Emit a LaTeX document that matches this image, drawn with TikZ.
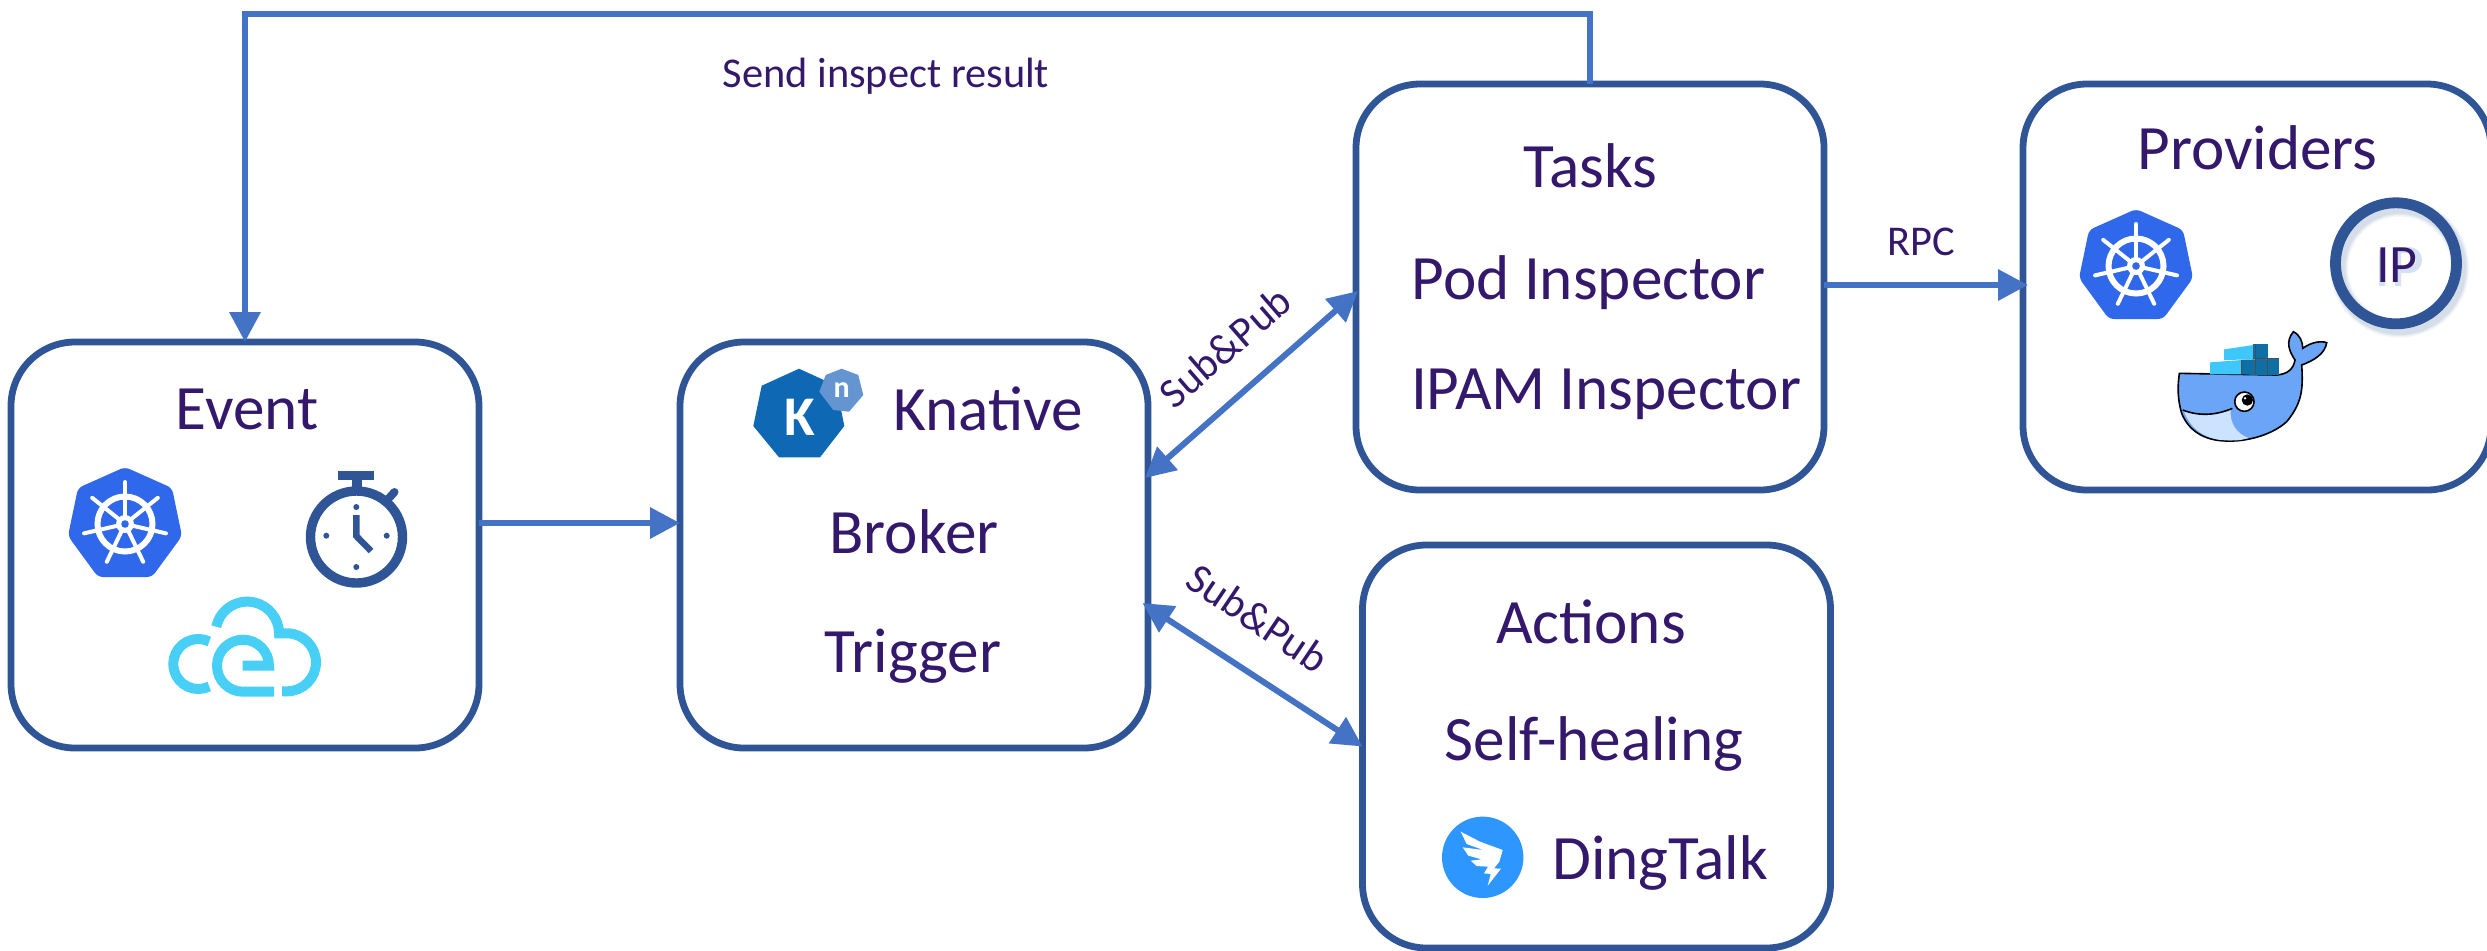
\documentclass[tikz,border=0pt]{standalone}
\usepackage{fontspec}
\setmainfont{Carlito}
\usetikzlibrary{arrows.meta,calc}
\definecolor{txt}{HTML}{34186B}
\definecolor{boxc}{HTML}{2F5597}
\definecolor{arr}{HTML}{4472C4}
\definecolor{kube}{HTML}{2F68EA}
\definecolor{cevent}{HTML}{47CFF5}
\definecolor{knat}{HTML}{0E68B4}
\definecolor{knatn}{HTML}{6495D1}
\definecolor{ding}{HTML}{2D96FF}
\definecolor{whale}{HTML}{6AA5F8}
\definecolor{belly}{HTML}{CCE3FF}
\definecolor{crate}{HTML}{3FC6FB}
\definecolor{crated}{HTML}{0F6EA3}
\tikzset{
  x=0.5pt,y=-0.5pt,
  panel/.style={draw=boxc,line width=3.4pt,rounded corners=32pt,minimum width=234pt,minimum height=203pt,outer sep=0pt,inner sep=0pt,fill=white},
  big/.style={text=txt,font=\fontsize{31.6}{32}\selectfont,anchor=base,inner sep=0pt},
  small/.style={text=txt,font=\fontsize{21.2}{22}\selectfont,inner sep=0pt},
  conn/.style={draw=arr,line width=3.2pt,-{Triangle[length=15pt,width=15pt]}},
  both/.style={draw=arr,line width=3pt,{Triangle[length=15pt,width=15pt]}-{Triangle[length=15pt,width=15pt]}},
  lgpt/.style={line width=0.8pt}
}
\newcommand{\kubelogo}[2]{%
\begin{scope}[shift={(#1,#2)}]
  \fill[kube,rounded corners=2.5pt] (0,-57)--(47,-36)--(57,12)--(27,53)--(-27,53)--(-57,12)--(-47,-36)--cycle;
  \draw[white,line width=3pt] (0,0) circle[radius=27.5];
  \foreach \a in {0,...,6}{\draw[white,line width=2pt,line cap=round] (0,0)--({-90+\a*360/7}:42);}
  \fill[white] (0,0) circle[radius=9];
  \fill[kube] (0,0) circle[radius=3.8];
\end{scope}}
\begin{document}
\begin{tikzpicture}
\useasboundingbox (0,0) rectangle (2487,950);
\clip (0,0) rectangle (2487,950);
\fill[white] (0,0) rectangle (2487,950);
% panels
\node[panel] (event) at (245,545) {};
\node[panel] (knative) at (914,545) {};
\node[panel] (tasks) at (1590,287) {};
\node[panel] (providers) at (2257,287) {};
\node[panel,minimum height=201.5pt] (actions) at (1596.5,746.5) {};
\coordinate (row1) at (0,523);
\coordinate (row2) at (0,285);
% connectors
\draw[conn] (tasks.north) -- ++(0,-70) -| (event.north);
\draw[conn] (event.east |- row1) -- (knative.west |- row1);
\draw[conn] (tasks.east |- row2) -- ($(providers.west |- row2)+(5,0)$);
\draw[both] ($(knative.east)+(-3,-67)$) -- ($(tasks.west)+(2,4)$);
\draw[both] ($(knative.east)+(-5.5,58)$) -- (actions.west);
% texts
\node[big] (tevent) at (247,429) {Event};
\node[big] (tknative) at (988,430) {Knative};
\node[big] (tbroker) at (914,553) {Broker};
\node[big] (ttrigger) at (913,672) {Trigger};
\node[big] (ttasks) at (1590.5,187) {Tasks};
\node[big] (tpod) at (1588.5,299) {Pod Inspector};
\node[big] (tipam) at (1606,409) {IPAM Inspector};
\node[big] (tproviders) at (2257.5,169) {Providers};
\node[big] (tactions) at (1591,643) {Actions};
\node[big] (tself) at (1594,760) {Self-healing};
\node[big] (tding) at (1660,879) {DingTalk};
\node[small,anchor=base] (lsend) at (886,87) {Send inspect result};
\node[small,anchor=base] (lrpc) at (1921.7,255) {RPC};
\node[small,rotate=41] (lsub1) at (1225,347) {Sub\&Pub};
\node[small,rotate=-34] (lsub2) at (1258,618) {Sub\&Pub};
% kubernetes
\kubelogo{125}{524}
\kubelogo{2136}{266}
% stopwatch
\draw[boxc,line width=4.7pt] (356.5,537) circle[radius=46];
\fill[boxc] (338,471) rectangle (374,480);
\fill[boxc] (352,480) rectangle (362,494);
\draw[boxc,line width=4pt,line cap=round] (389,498)--(394.5,492);
\foreach \p in {(356.3,507),(326.3,535.7),(386.7,535.7),(356.3,567)}{\fill[boxc] \p circle[radius=3];}
\draw[boxc,line width=3.2pt,miter limit=10] (356.3,515)--(356.3,536)--(371,551);
% cloudevents
\begin{scope}[cevent,line width=5pt]
  \draw (198.3,664) ++(-64:25) arc[start angle=-64,end angle=-296,radius=25];
  \draw (242.7,665.7)--(269,665.7) arc[start angle=0,end angle=-180,radius=26] arc[start angle=-180,end angle=-270,radius=26]--(274,691.7);
  \draw (247.3,633.3) ++(-168:31.7) arc[start angle=-168,end angle=0,radius=31.7]--(287,633.3) arc[start angle=-90,end angle=90,radius=29]--(282,691.3);
\end{scope}
% knative
\fill[knat] (799,368.7)--(836.3,385.7)--(844.3,426)--(820,457.3)--(779,457.3)--(753.3,426)--(761.7,385.7)--cycle;
\fill[knatn] (841.7,368.7)--(858.3,375)--(863.3,395)--(849,411.7)--(833.3,410)--(819.3,391.7)--(825.7,375)--cycle;
\node[font=\fontsize{28}{28}\selectfont\bfseries,text=white,anchor=base,inner sep=0pt] (lk) at (800,435) {K};
\node[font=\fontsize{15}{15}\selectfont\bfseries,text=white,anchor=base,inner sep=0pt] (ln) at (841.7,397) {n};
% IP circle
\foreach \w/\o in {9/.06,7.5/.07,6.2/.08}{\draw[boxc,opacity=\o,line width=\w pt] (2399.5,268) circle[radius=60.5];}
\draw[boxc,line width=5.4pt] (2396,263.3) circle[radius=60.5];
\begin{scope}[arr,opacity=.22,line width=3pt]
  \draw (2382,250)--(2382,286);
  \draw (2398,286)--(2398,250)--(2409,250) arc[start angle=-90,end angle=90,radius=10]--(2398,270);
\end{scope}
\node[big,font=\fontsize{27}{27}\selectfont] (lip) at (2397,282) {IP};
% docker whale
\begin{scope}[shift={(2000,70)},x=0.16667pt,y=-0.16667pt]
  \draw[black,fill=whale,lgpt] (538,910)--(830,915) .. controls (862,912) and (880,898) .. (885,870)
    .. controls (868,845) and (855,815) .. (880,785) .. controls (900,795) and (908,815) .. (908,835)
    .. controls (935,815) and (965,812) .. (980,818) .. controls (975,850) and (945,870) .. (905,885)
    .. controls (910,960) and (905,1000) .. (860,1055) .. controls (810,1100) and (730,1115) .. (680,1113)
    .. controls (610,1112) and (565,1080) .. (545,1030) .. controls (533,990) and (532,950) .. (538,910) -- cycle;
  \fill[belly] (551,1022) .. controls (600,1040) and (650,1035) .. (692,1018) .. controls (688,1060) and (710,1090) .. (745,1104) .. controls (720,1112) and (700,1112) .. (680,1111) .. controls (615,1110) and (570,1075) .. (551,1022) -- cycle;
  \draw[black,lgpt] (548,1020) .. controls (600,1040) and (650,1035) .. (697,1015);
  \draw[black,fill=white,lgpt] (733,995) circle[radius=29];
  \fill[black] (742,990) circle[radius=17];
  \fill[white] (735,985) circle[radius=4];
  \fill[crate] (630,877)--(725,870)--(725,913)--(630,913)--cycle;
  \fill[crate] (672,838)--(760,825)--(760,868)--(672,870)--cycle;
  \fill[crated] (725,870)--(765,868)--(765,915)--(725,913)--cycle;
  \fill[crated] (765,865)--(803,868)--(803,915)--(765,915)--cycle;
  \fill[crated] (803,868)--(838,868)--(838,915)--(803,915)--cycle;
  \fill[crated] (760,823)--(805,823)--(805,865)--(760,865)--cycle;
  \draw[black!70,line width=0.5pt] (765,823)--(765,915) (803,865)--(803,915) (725,870)--(725,913) (760,866)--(838,866);
\end{scope}
% dingtalk
\fill[ding] (1482.7,857.3) circle[radius=40.7];
\begin{scope}[shift={(1340,740)},x=0.16667pt,y=-0.16667pt]
  \fill[white] (362,275)--(420,305)--(488,330)--(478,365)--(462,385)--(483,386)--(443,437)--(452,402)--(432,400)--(444,380)--(410,378)--(392,362)--(425,358)--(385,347)--(368,322)--(430,330)--(380,312)--cycle;
\end{scope}
\end{tikzpicture}
\end{document}
